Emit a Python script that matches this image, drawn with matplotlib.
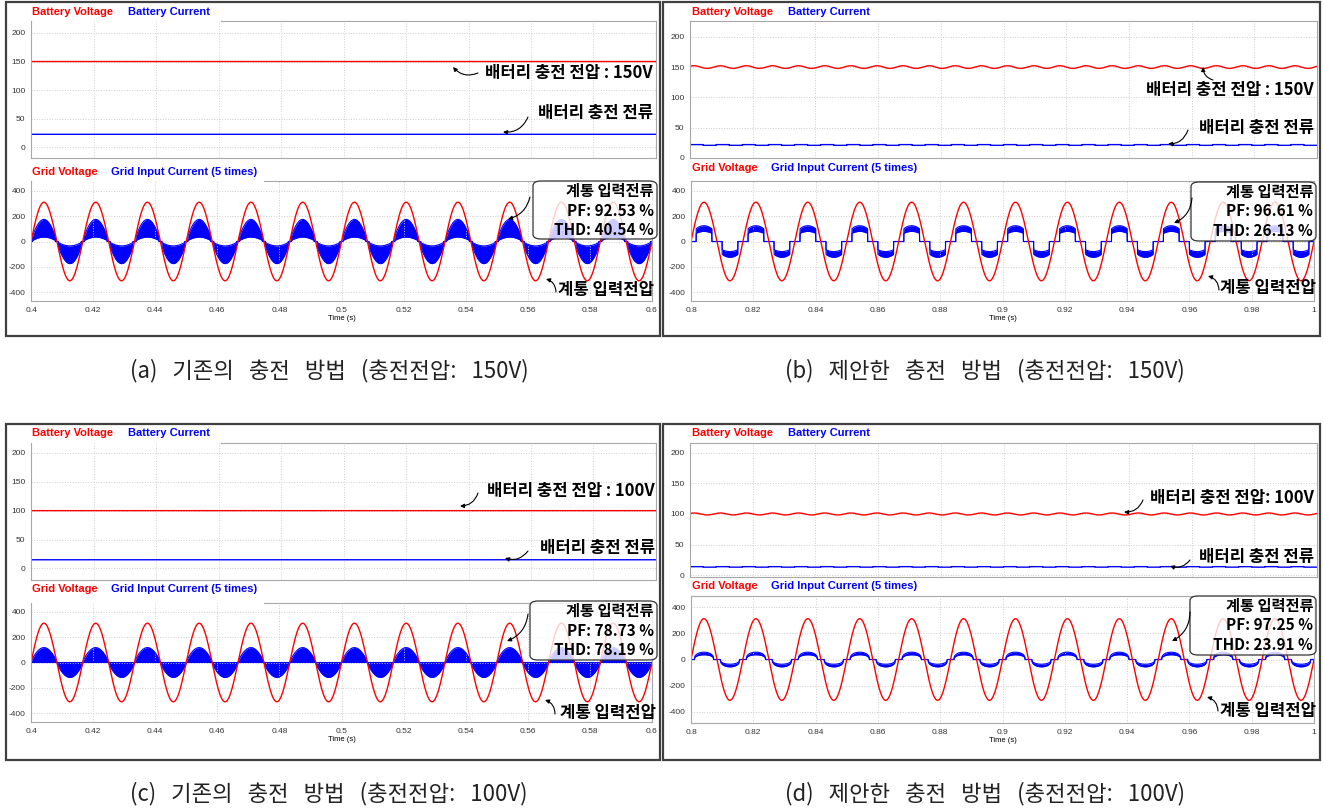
import numpy as np
import matplotlib
matplotlib.use('Agg')
import matplotlib.pyplot as plt
from matplotlib.patches import Rectangle, FancyBboxPatch, FancyArrowPatch

plt.rcParams['font.family'] = ['Noto Sans CJK KR', 'DejaVu Sans']
plt.rcParams['axes.unicode_minus'] = False

W, H = 1323, 809

# values
t_start = [0.4, 0.8, 0.4, 0.8]
t_span = 0.2
grid_freq = 60.0
grid_v_peak = [311, 311, 311, 311]
bat_voltage = [150, 150, 100, 100]
bat_v_ripple = [0.0, 2.2, 0.0, 1.6]
bat_current = [22.5, 21.5, 15.0, 13.5]
bat_i_ripple = [0.0, 0.6, 0.0, 0.4]
cur_upper_pk = [175, 125, 118, 56]
cur_lower_pk = [35, 80, 0, 36]
cur_shape_exp = [0.85, 0.4, 0.8, 0.35]
cur_dead_ms = [0.5, 1.65, 0.0, 1.1]
cur_soft_onset = [False, False, False, True]
pf_values = [92.53, 96.61, 78.73, 97.25]
thd_values = [40.54, 26.13, 78.19, 23.91]
bat_v_labels = ['배터리 충전 전압 : 150V', '배터리 충전 전압 : 150V',
                '배터리 충전 전압 : 100V', '배터리 충전 전압: 100V']
captions = ['(a)   기존의   충전   방법   (충전전압:   150V)',
            '(b)   제안한   충전   방법   (충전전압:   150V)',
            '(c)   기존의   충전   방법   (충전전압:   100V)',
            '(d)   제안한   충전   방법   (충전전압:   100V)']
top_yticks = [0, 50, 100, 150, 200]
bot_yticks = [-400, -200, 0, 200, 400]

# layout in pixels (left, top, right, bottom)
frames = [(6, 2, 660, 336), (663, 2, 1320, 336), (6, 424, 660, 760), (663, 424, 1320, 760)]
top_boxes = [(31, 21, 656, 158), (690, 21, 1317, 158), (31, 443, 656, 580), (690, 443, 1317, 577)]
bot_boxes = [(31, 181, 652, 301), (691, 181, 1314, 301), (31, 603, 652, 722), (691, 596, 1314, 723)]
top_ylims = [(-19, 221), (0, 226), (-20, 217), (-3, 216)]
bot_ylims = [(-471, 479), (-471, 479), (-471, 471), (-484, 484)]
hide_top = [True, False, True, False]
caption_xy = [(329, 371), (985, 371), (329, 794), (985, 794)]
legend_x0 = [32, 692, 32, 692]
legend_top_y = [12, 12, 433, 433]
legend_bot_y = [172, 168, 589, 586]

bat_v_text = [(653, 73), (1314, 90), (655, 491), (1314, 498)]
bat_v_arrow = [((478, 73), (453, 67)), ((1213, 80), (1203, 67)),
               ((478, 493), (460, 506)), ((1143, 500), (1124, 512))]
bat_i_text = [(653, 113), (1314, 128), (655, 548), (1314, 557)]
bat_i_arrow = [((528, 117), (503, 132)), ((1188, 130), (1168, 144)),
               ((528, 551), (505, 558)), ((1190, 560), (1170, 566))]
box_rect = [(533, 181, 657, 239), (1191, 182, 1316, 241), (530, 601, 657, 660), (1190, 596, 1316, 655)]
cur_arrow = [((530, 197), (508, 219)), ((1192, 198), (1174, 223)),
             ((528, 614), (507, 641)), ((1190, 612), (1172, 641))]
gv_text = [(654, 290), (1316, 288), (656, 713), (1316, 711)]
gv_arrow = [((556, 292), (546, 279)), ((1219, 290), (1208, 276)),
            ((555, 714), (545, 700)), ((1218, 711), (1207, 697))]


def fxy(x, y):
    return x / W, 1 - y / H


def rect(b):
    l, t, r, bt = b
    return [l / W, 1 - bt / H, (r - l) / W, (bt - t) / H]


fig = plt.figure(figsize=(W / 100, H / 100), dpi=100)
fig.patch.set_facecolor('white')

leg_font = dict(family='Liberation Sans', size=8, weight='bold')
kor_font = dict(size=12, weight='bold', color='black')
spine_c = '#a8a8a8'


def style_axes(ax, hide, gap_px, width_px):
    ax.grid(True, ls=':', color='#cfcfcf', lw=0.7)
    ax.tick_params(length=0, pad=4)
    for lab in ax.get_xticklabels() + ax.get_yticklabels():
        lab.set_fontfamily('Liberation Sans')
        lab.set_fontsize(6)
        lab.set_color('#333333')
    for sp in ax.spines.values():
        sp.set_color(spine_c)
        sp.set_linewidth(0.8)
    if hide:
        ax.spines['top'].set_visible(False)
        ax.plot([gap_px / width_px, 1], [1, 1], transform=ax.transAxes,
                color=spine_c, lw=0.8, clip_on=False)


def arrow(p_from, p_to, rad=-0.35):
    fig.add_artist(FancyArrowPatch(
        fxy(*p_from), fxy(*p_to), transform=fig.transFigure,
        arrowstyle='-|>', mutation_scale=6, lw=0.8, color='black',
        shrinkA=0, shrinkB=0, connectionstyle='arc3,rad=%s' % rad))


for i in range(4):
    t0 = t_start[i]
    xt = np.round(np.arange(t0, t0 + t_span + 1e-9, 0.02), 2)
    t = np.linspace(t0, t0 + t_span, 40001)
    w = 2 * np.pi * grid_freq

    # panel frame
    l, tp, r, b = frames[i]
    fig.add_artist(Rectangle(fxy(l, b), (r - l) / W, (b - tp) / H, transform=fig.transFigure,
                             fill=False, edgecolor='#404040', lw=1.6))

    # battery voltage / current
    ax1 = fig.add_axes(rect(top_boxes[i]))
    vb = bat_voltage[i] + bat_v_ripple[i] * np.sin(2 * w * (t - t0) + 0.6)
    ib = bat_current[i] + bat_i_ripple[i] * np.sign(np.sin(2 * w * (t - t0)))
    ax1.plot(t, vb, color='red', lw=1.0)
    ax1.plot(t, ib, color='blue', lw=1.0)
    ax1.set_xlim(t0, t0 + t_span)
    ax1.set_ylim(*top_ylims[i])
    ax1.set_xticks(xt)
    ax1.set_xticklabels([])
    ax1.set_yticks(top_yticks)
    bw = top_boxes[i][2] - top_boxes[i][0]
    style_axes(ax1, hide_top[i], 221 - 31, bw)

    # grid voltage / input current
    ax2 = fig.add_axes(rect(bot_boxes[i]))
    s = np.sin(w * (t - t0))
    if cur_soft_onset[i]:
        s0 = np.sin(w * cur_dead_ms[i] / 1000.0)
        g = np.clip((np.abs(s) - s0) / (1 - s0), 0, 1) ** cur_shape_exp[i]
    else:
        since = (t - t0) % (0.5 / grid_freq)
        dist = np.minimum(since, 0.5 / grid_freq - since)
        g = np.where(dist > cur_dead_ms[i] / 1000.0, np.abs(s) ** cur_shape_exp[i], 0)
    shape = np.sign(s) * g
    upper = cur_upper_pk[i] * shape
    lower = cur_lower_pk[i] * shape
    ax2.fill_between(t, lower, upper, color='blue', lw=0)
    ax2.plot(t, upper, color='blue', lw=0.8)
    ax2.plot(t, lower, color='blue', lw=0.8)
    ax2.plot(t, grid_v_peak[i] * s, color='red', lw=1.0)
    ax2.set_xlim(t0, t0 + t_span)
    ax2.set_ylim(*bot_ylims[i])
    ax2.set_xticks(xt)
    ax2.set_xticklabels(['%g' % v for v in xt])
    ax2.set_yticks(bot_yticks)
    ax2.set_xlabel('Time (s)', fontsize=5.5, family='Liberation Sans', labelpad=1)
    bw2 = bot_boxes[i][2] - bot_boxes[i][0]
    style_axes(ax2, hide_top[i], 264 - 31, bw2)

    # legend titles
    x0 = legend_x0[i]
    fig.text(*fxy(x0, legend_top_y[i]), 'Battery Voltage', color='red', va='center', **leg_font)
    fig.text(*fxy(x0 + 96, legend_top_y[i]), 'Battery Current', color='blue', va='center', **leg_font)
    fig.text(*fxy(x0, legend_bot_y[i]), 'Grid Voltage', color='red', va='center', **leg_font)
    fig.text(*fxy(x0 + 79, legend_bot_y[i]), 'Grid Input Current (5 times)', color='blue',
             va='center', **leg_font)

    # battery annotations
    fig.text(*fxy(*bat_v_text[i]), bat_v_labels[i], ha='right', va='center', **kor_font)
    arrow(*bat_v_arrow[i])
    fig.text(*fxy(*bat_i_text[i]), '배터리 충전 전류', ha='right', va='center', **kor_font)
    arrow(*bat_i_arrow[i])

    # PF / THD box
    bl, bt_, br, bb = box_rect[i]
    fig.add_artist(FancyBboxPatch(fxy(bl, bb), (br - bl) / W, (bb - bt_) / H,
                                  boxstyle='round,pad=0,rounding_size=0.006',
                                  transform=fig.transFigure, facecolor='white', alpha=0.8,
                                  edgecolor='none'))
    fig.add_artist(FancyBboxPatch(fxy(bl, bb), (br - bl) / W, (bb - bt_) / H,
                                  boxstyle='round,pad=0,rounding_size=0.006',
                                  transform=fig.transFigure, fill=False,
                                  edgecolor='#333333', lw=0.9))
    lines = ['계통 입력전류', 'PF: %.2f %%' % pf_values[i], 'THD: %.2f %%' % thd_values[i]]
    for k, txt in enumerate(lines):
        fig.text(*fxy(br - 3, bt_ + 10 + 19.5 * k), txt, ha='right', va='center',
                 size=11, weight='bold')
    arrow(*cur_arrow[i], rad=-0.3)
    fig.text(*fxy(*gv_text[i]), '계통 입력전압', ha='right', va='center', **kor_font)
    arrow(*gv_arrow[i], rad=0.35)

    # caption
    fig.text(*fxy(*caption_xy[i]), captions[i], ha='center', va='center', size=16, color='#222222')

fig.savefig('out.png', dpi=100)
